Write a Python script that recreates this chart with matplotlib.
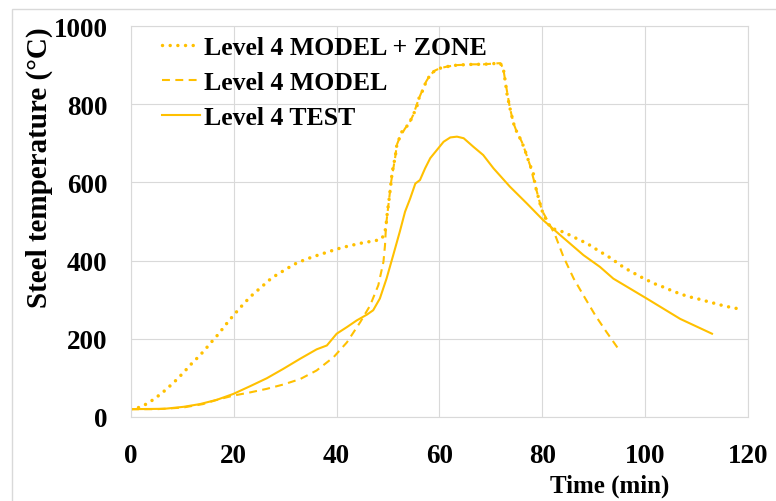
import matplotlib; matplotlib.use("Agg")
import matplotlib.pyplot as plt
from matplotlib.patches import Rectangle

# ---- data ----
zone_t = [0, 1.75, 3.4, 4.7, 6, 7.3, 8.6, 9.8, 11, 12.1, 13.3, 14.5, 15.6, 16.8, 17.9, 18.9, 20,
          21.2, 22.3, 23.5, 24.8, 26.1, 27.4, 28.9, 30.4, 31.8, 33.4, 35, 36.6, 38.3, 39.9, 41.6,
          43.2, 44.9, 46.6, 48.3, 48.8, 49.4, 49.6, 49.9, 50.1, 50.4, 50.6, 50.8, 51.4, 51.7, 52.2,
          52.7, 53.3, 54.1, 54.9, 55.6, 56, 56.8, 57.4, 58.2, 59.1, 60.1, 61.4, 63.4, 66.6, 68.5,
          71.8, 72.4, 72.8, 73.1, 73.7, 74.4, 75, 76, 76.7, 77.6, 78.2, 78.6, 79.2, 79.9, 80.9,
          81.8, 82.5, 84.1, 85.7, 87.2, 88.7, 90.1, 91.6, 93.1, 94.5, 95.9, 97.4, 98.9, 100.4,
          102, 103.6, 105.2, 106.8, 108.4, 110, 111.7, 113.4, 115.1, 116.8, 118.5]
zone_T = [20, 25, 36, 48, 61, 76, 92, 108, 125, 141, 156, 174, 191, 209, 227, 244, 261,
          279, 295, 311, 326, 341, 356, 368, 380, 391, 400, 408, 415, 422, 429, 435,
          440, 445, 449, 453, 456, 474, 490, 529, 546, 580, 602, 627, 666, 696, 713,
          730, 738, 751, 773, 794, 815, 837, 858, 875, 886, 892, 896, 900, 902, 902,
          905, 892, 858, 828, 790, 751, 730, 704, 679, 644, 627, 593, 563, 529, 499,
          482, 480, 473, 463, 453, 444, 432, 420, 408, 395, 382, 371, 360, 350,
          340, 332, 323, 315, 308, 303, 297, 291, 285, 280, 276]

model_t = [0, 5, 10, 14, 17, 20, 23.2, 26.4, 29.6, 32.9, 36.1, 39.4, 42, 44.6, 46.5, 48.1,
           49.1, 49.4, 49.6, 50.1, 50.6, 51.4, 51.7, 52.2, 53.3, 54.1, 54.9, 56, 57.4, 58.2,
           59.1, 60.1, 61.4, 63.4, 66.6, 68.5, 71.8, 72.4, 72.8, 73.7, 74.4, 75, 76, 76.7,
           77.6, 78.6, 79.9, 80.9, 82.5, 84.1, 86.1, 88, 90.3, 92.5, 94.8]
model_T = [20, 20, 24, 33, 45, 55, 63, 72, 83, 97, 119, 153, 191, 243, 285, 337,
           397, 439, 490, 546, 602, 666, 696, 713, 738, 751, 773, 815, 858, 875,
           886, 892, 896, 900, 902, 902, 905, 892, 858, 790, 751, 730, 704, 679,
           644, 593, 529, 505, 465, 410, 354, 311, 260, 217, 174]

test_t = [0, 6.5, 10.2, 13.4, 16.7, 19.9, 23.2, 26.4, 29.6, 32.9, 36.1, 38.1, 40, 42, 43.9,
          45.9, 47.1, 48.4, 49.7, 51, 52.3, 53.3, 54.3, 55.3, 56.2, 57.2, 58.2, 59.5, 60.8,
          62.1, 63.4, 64.7, 66.6, 68.5, 70.5, 73.7, 77, 80.2, 83.5, 88, 91.2, 93.8, 100.3,
          106.8, 113]
test_T = [20, 21, 26, 33, 44, 59, 79, 99, 123, 149, 173, 183, 213, 230, 247,
          262, 273, 303, 354, 414, 475, 525, 559, 597, 606, 636, 662, 683, 704,
          715, 717, 713, 691, 670, 636, 589, 546, 503, 465, 414, 384, 354, 303,
          251, 213]

GOLD = "#FFC000"
GRID = "#d9d9d9"
plt.rcParams["font.family"] = ["Liberation Serif", "DejaVu Serif"]
plt.rcParams["font.weight"] = "bold"

W, H = 776, 502
fig = plt.figure(figsize=(W / 100, H / 100), dpi=100)
ax = fig.add_axes([131 / W, (H - 418) / H, (748 - 131) / W, (418 - 27) / H])

ax.plot(zone_t, zone_T, color=GOLD, lw=2.5, linestyle=(0, (0.01, 2.2)),
        dash_capstyle="round", label="Level 4 MODEL + ZONE")
ax.plot(model_t, model_T, color=GOLD, lw=1.5, linestyle=(0, (3.8, 2.6)),
        label="Level 4 MODEL")
ax.plot(test_t, test_T, color=GOLD, lw=1.5, label="Level 4 TEST")

ax.set_xlim(0, 120); ax.set_ylim(0, 1000)
ax.set_xticks(range(0, 121, 20)); ax.set_yticks(range(0, 1001, 200))
ax.grid(True, color=GRID, lw=0.8); ax.set_axisbelow(True)
for s in ax.spines.values():
    s.set_color(GRID); s.set_linewidth(0.8)
ax.tick_params(length=0, labelsize=19.5, pad=0)
ax.tick_params(axis="x", pad=19)
ax.tick_params(axis="y", pad=17)

fig.text(610 / W, 1 - 486 / H, "Time (min)", ha="center", va="center", fontsize=18, fontweight="bold")
fig.text(39 / W, 1 - 168 / H, "Steel temperature (°C)", ha="center", va="center",
         rotation=90, fontsize=21, fontweight="bold")

ax.legend(loc="upper left", bbox_to_anchor=(28 / 617, 1 - 7 / 391), frameon=False,
          fontsize=18.5, handlelength=1.5, handletextpad=0.15, labelspacing=0.47,
          borderaxespad=0.0, borderpad=0.1)

# light chart-area frame
fig.add_artist(Rectangle((12.5 / W, -0.1), 1.2, (H - 9.5) / H + 0.1, transform=fig.transFigure,
                         fill=False, edgecolor=GRID, lw=1.0))

fig.savefig("out.png", dpi=100, facecolor="white")
